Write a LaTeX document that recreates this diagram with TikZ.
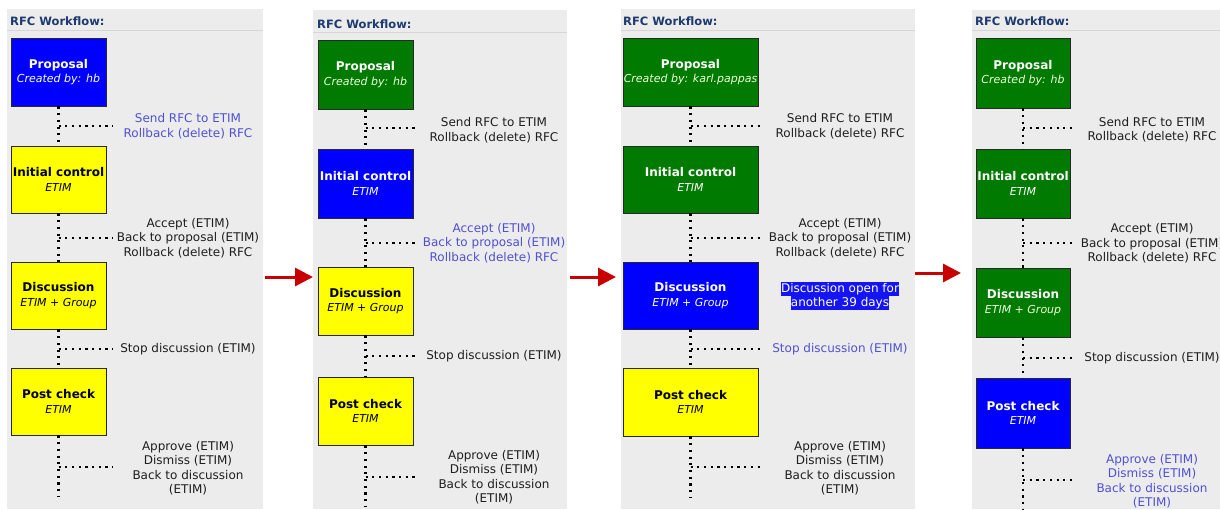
\documentclass[tikz,border=0pt]{standalone}
\usepackage{fontspec}
\setmainfont{DejaVu Sans}
\usetikzlibrary{arrows.meta}
\definecolor{panelbg}{RGB}{236,236,236}
\definecolor{sepcol}{RGB}{214,214,214}
\definecolor{titlecol}{RGB}{30,58,110}
\definecolor{linkcol}{RGB}{80,80,210}
\definecolor{darktext}{RGB}{30,30,30}
\definecolor{bluebox}{RGB}{0,0,255}
\definecolor{greenbox}{RGB}{0,122,0}
\definecolor{yellowbox}{RGB}{255,255,0}
\definecolor{boxline}{RGB}{40,40,40}
\definecolor{arrowred}{RGB}{200,0,0}
\definecolor{hlblue}{RGB}{20,20,245}
\definecolor{greensub}{RGB}{235,255,220}
\begin{document}
\begin{tikzpicture}[x=1pt,y=-1pt,
  paneltitle/.style={anchor=west,inner sep=0pt,text=titlecol,font=\fontsize{11.5}{13}\selectfont\bfseries},
  sepline/.style={draw=sepcol,line width=1pt},
  box/.style={draw=boxline,line width=0.8pt,inner sep=0pt,align=center,font=\fontsize{12}{14.5}\selectfont},
  bluestate/.style={box,fill=bluebox,text=white},
  greenstate/.style={box,fill=greenbox,text=white},
  yellowstate/.style={box,fill=yellowbox,text=black},
  lab/.style={align=center,inner sep=0pt,text=darktext,font=\fontsize{12}{14.5}\selectfont},
  linklab/.style={lab,text=linkcol},
  hilite/.style={fill=hlblue,text=white,inner xsep=0pt,inner ysep=0.75pt,text height=9.5pt,text depth=3pt,font=\fontsize{12}{14}\selectfont},
  dots/.style={draw=black,line width=2.3pt,dash pattern=on 2.2pt off 4.5pt},
  flow/.style={draw=arrowred,line width=3pt,-{Triangle[length=18pt,width=18pt]}}
]
\useasboundingbox (0,0) rectangle (1220,509);
\clip (0,0) rectangle (1220,509);
\newcommand{\bt}[1]{{\bfseries #1}}
\newcommand{\st}[1]{{\fontsize{11}{14.5}\selectfont\itshape #1}}

% ---------------- Panel 1 ----------------
\fill[panelbg] (7,9) rectangle (263,509);
\draw[sepline] (7,30.5) -- (263,30.5);
\node[paneltitle] (t1) at (10,21) {RFC Workflow:};
\node[bluestate,minimum width=95pt,minimum height=68pt] (a1) at (58.5,72) {\bt{Proposal}\\\st{Created by: hb}};
\node[yellowstate,minimum width=95pt,minimum height=67pt] (b1) at (58.5,179.5) {\bt{Initial control}\\\st{ETIM}};
\node[yellowstate,minimum width=95pt,minimum height=67pt] (c1) at (58.5,295.5) {\bt{Discussion}\\\st{ETIM + Group}};
\node[yellowstate,minimum width=95pt,minimum height=67pt] (d1) at (58.5,401.5) {\bt{Post check}\\\st{ETIM}};
\draw[dots] (a1.south) -- (b1.north);
\draw[dots] (b1.south) -- (c1.north);
\draw[dots] (c1.south) -- (d1.north);
\coordinate (z1) at (58.5,497);
\draw[dots] (d1.south) -- (z1);
\coordinate (j1a) at (58.5,126); \coordinate (e1a) at (113,126);
\coordinate (j1b) at (58.5,238); \coordinate (e1b) at (113,238);
\coordinate (j1c) at (58.5,349); \coordinate (e1c) at (113,349);
\coordinate (j1d) at (58.5,467); \coordinate (e1d) at (113,467);
\draw[dots] (j1a) -- (e1a);
\draw[dots] (j1b) -- (e1b);
\draw[dots] (j1c) -- (e1c);
\draw[dots] (j1d) -- (e1d);
\node[linklab] (l1a) at (188,126) {Send RFC to ETIM\\Rollback (delete) RFC};
\node[lab] (l1b) at (188,238) {Accept (ETIM)\\Back to proposal (ETIM)\\Rollback (delete) RFC};
\node[lab] (l1c) at (188,349) {Stop discussion (ETIM)};
\node[lab] (l1d) at (188,468) {Approve (ETIM)\\Dismiss (ETIM)\\Back to discussion\\(ETIM)};

% ---------------- Panel 2 ----------------
\fill[panelbg] (313,10) rectangle (567,509);
\draw[sepline] (313,32.5) -- (567,32.5);
\node[paneltitle] (t2) at (317,24) {RFC Workflow:};
\node[greenstate,minimum width=95pt,minimum height=69pt] (a2) at (365.5,74.5) {\bt{Proposal}\\\st{\color{greensub}Created by: hb}};
\node[bluestate,minimum width=95pt,minimum height=69pt] (b2) at (365.5,183.5) {\bt{Initial control}\\\st{ETIM}};
\node[yellowstate,minimum width=95pt,minimum height=68pt] (c2) at (365.5,301) {\bt{Discussion}\\\st{ETIM + Group}};
\node[yellowstate,minimum width=95pt,minimum height=68pt] (d2) at (365.5,411) {\bt{Post check}\\\st{ETIM}};
\draw[dots] (a2.south) -- (b2.north);
\draw[dots] (b2.south) -- (c2.north);
\draw[dots] (c2.south) -- (d2.north);
\coordinate (z2) at (365.5,507);
\draw[dots] (d2.south) -- (z2);
\coordinate (j2a) at (365.5,128); \coordinate (e2a) at (418,128);
\coordinate (j2b) at (365.5,243); \coordinate (e2b) at (418,243);
\coordinate (j2c) at (365.5,356); \coordinate (e2c) at (418,356);
\coordinate (j2d) at (365.5,477); \coordinate (e2d) at (418,477);
\draw[dots] (j2a) -- (e2a);
\draw[dots] (j2b) -- (e2b);
\draw[dots] (j2c) -- (e2c);
\draw[dots] (j2d) -- (e2d);
\node[lab] (l2a) at (494,130) {Send RFC to ETIM\\Rollback (delete) RFC};
\node[linklab] (l2b) at (494,243) {Accept (ETIM)\\Back to proposal (ETIM)\\Rollback (delete) RFC};
\node[lab] (l2c) at (494,356) {Stop discussion (ETIM)};
\node[lab] (l2d) at (494,477) {Approve (ETIM)\\Dismiss (ETIM)\\Back to discussion\\(ETIM)};

% ---------------- Panel 3 ----------------
\fill[panelbg] (621,9) rectangle (915,509);
\draw[sepline] (621,30.5) -- (915,30.5);
\node[paneltitle] (t3) at (623,21) {RFC Workflow:};
\node[greenstate,minimum width=135pt,minimum height=68pt] (a3) at (690.5,72) {\bt{Proposal}\\\st{\color{greensub}Created by: karl.pappas}};
\node[greenstate,minimum width=135pt,minimum height=67pt] (b3) at (690.5,179.5) {\bt{Initial control}\\\st{ETIM}};
\node[bluestate,minimum width=135pt,minimum height=67pt] (c3) at (690.5,295.5) {\bt{Discussion}\\\st{ETIM + Group}};
\node[yellowstate,minimum width=135pt,minimum height=68pt] (d3) at (690.5,402) {\bt{Post check}\\\st{ETIM}};
\draw[dots] (a3.south) -- (b3.north);
\draw[dots] (b3.south) -- (c3.north);
\draw[dots] (c3.south) -- (d3.north);
\coordinate (z3) at (690.5,497);
\draw[dots] (d3.south) -- (z3);
\coordinate (j3a) at (690.5,126); \coordinate (e3a) at (764,126);
\coordinate (j3b) at (690.5,238); \coordinate (e3b) at (764,238);
\coordinate (j3c) at (690.5,349); \coordinate (e3c) at (764,349);
\coordinate (j3d) at (690.5,467); \coordinate (e3d) at (764,467);
\draw[dots] (j3a) -- (e3a);
\draw[dots] (j3b) -- (e3b);
\draw[dots] (j3c) -- (e3c);
\draw[dots] (j3d) -- (e3d);
\node[lab] (l3a) at (840,126) {Send RFC to ETIM\\Rollback (delete) RFC};
\node[lab] (l3b) at (840,238) {Accept (ETIM)\\Back to proposal (ETIM)\\Rollback (delete) RFC};
\node[hilite] (h3a) at (840,289) {Discussion open for};
\node[hilite] (h3b) at (840,303) {another 39 days};
\node[linklab] (l3c) at (840,349) {Stop discussion (ETIM)};
\node[lab] (l3d) at (840,468) {Approve (ETIM)\\Dismiss (ETIM)\\Back to discussion\\(ETIM)};

% ---------------- Panel 4 ----------------
\fill[panelbg] (972,10) rectangle (1220,509);
\draw[sepline] (972,30.5) -- (1220,30.5);
\node[paneltitle] (t4) at (975,21) {RFC Workflow:};
\node[greenstate,minimum width=94pt,minimum height=70pt] (a4) at (1023,73) {\bt{Proposal}\\\st{\color{greensub}Created by: hb}};
\node[greenstate,minimum width=94pt,minimum height=69pt] (b4) at (1023,183.5) {\bt{Initial control}\\\st{ETIM}};
\node[greenstate,minimum width=94pt,minimum height=69pt] (c4) at (1023,302.5) {\bt{Discussion}\\\st{\color{greensub}ETIM + Group}};
\node[bluestate,minimum width=94pt,minimum height=70pt] (d4) at (1023,413) {\bt{Post check}\\\st{ETIM}};
\draw[dots] (a4.south) -- (b4.north);
\draw[dots] (b4.south) -- (c4.north);
\draw[dots] (c4.south) -- (d4.north);
\coordinate (z4) at (1023,509);
\draw[dots] (d4.south) -- (z4);
\coordinate (j4a) at (1023,128); \coordinate (e4a) at (1076,128);
\coordinate (j4b) at (1023,243); \coordinate (e4b) at (1076,243);
\coordinate (j4c) at (1023,358); \coordinate (e4c) at (1076,358);
\coordinate (j4d) at (1023,480); \coordinate (e4d) at (1076,480);
\draw[dots] (j4a) -- (e4a);
\draw[dots] (j4b) -- (e4b);
\draw[dots] (j4c) -- (e4c);
\draw[dots] (j4d) -- (e4d);
\node[lab] (l4a) at (1152,129.5) {Send RFC to ETIM\\Rollback (delete) RFC};
\node[lab] (l4b) at (1152,243.5) {Accept (ETIM)\\Back to proposal (ETIM)\\Rollback (delete) RFC};
\node[lab] (l4c) at (1152,358) {Stop discussion (ETIM)};
\node[linklab] (l4d) at (1152,481) {Approve (ETIM)\\Dismiss (ETIM)\\Back to discussion\\(ETIM)};

% ---------------- Arrows between panels ----------------
\coordinate (r1s) at (265,277); \coordinate (r1e) at (313,277);
\coordinate (r2s) at (570,277); \coordinate (r2e) at (616,277);
\coordinate (r3s) at (915,273); \coordinate (r3e) at (961,273);
\draw[flow] (r1s) -- (r1e);
\draw[flow] (r2s) -- (r2e);
\draw[flow] (r3s) -- (r3e);
\end{tikzpicture}
\end{document}
